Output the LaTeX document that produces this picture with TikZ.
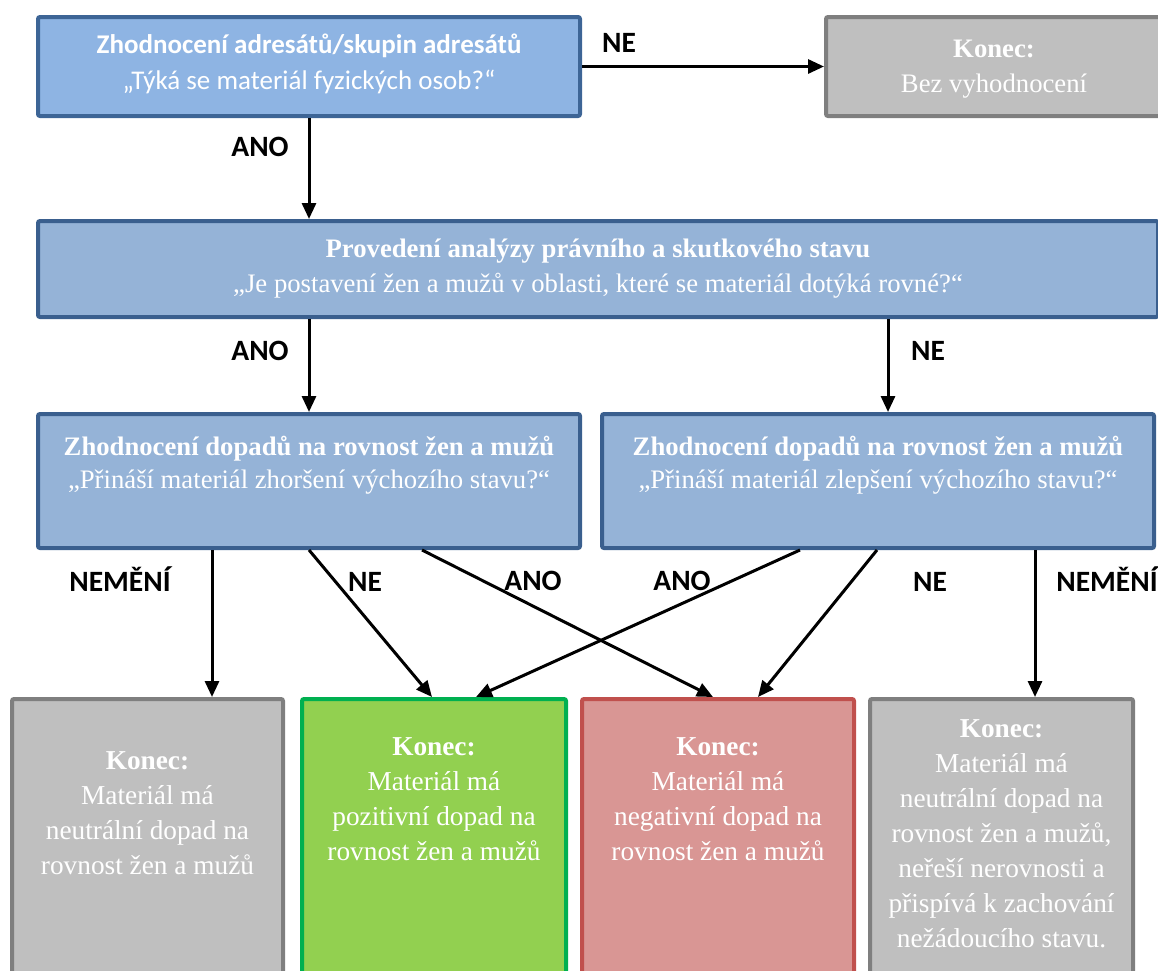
\documentclass[tikz,border=0pt]{standalone}
\usepackage{fontspec}
\setmainfont{Liberation Serif}
\newfontfamily\calib{Carlito}
\usetikzlibrary{arrows.meta}
\definecolor{bOneFill}{HTML}{8EB4E3}
\definecolor{bOneDraw}{HTML}{3D6596}
\definecolor{bTwoFill}{HTML}{95B3D7}
\definecolor{bTwoDraw}{HTML}{3A5F8E}
\definecolor{gFill}{HTML}{BFBFBF}
\definecolor{gDraw}{HTML}{7F7F7F}
\definecolor{grFill}{HTML}{92D050}
\definecolor{grDraw}{HTML}{00B050}
\definecolor{rFill}{HTML}{D99694}
\definecolor{rDraw}{HTML}{C0504D}
\tikzset{
  boxbase/.style={rectangle, rounded corners=2pt, line width=4pt, inner sep=0pt},
  blueone/.style={boxbase, fill=bOneFill, draw=bOneDraw},
  bluetwo/.style={boxbase, fill=bTwoFill, draw=bTwoDraw},
  graybox/.style={boxbase, fill=gFill, draw=gDraw},
  greenbox/.style={boxbase, fill=grFill, draw=grDraw},
  redbox/.style={boxbase, fill=rFill, draw=rDraw},
  txtone/.style={anchor=north, inner sep=0pt, align=center, text=white, font=\calib\fontsize{27}{36}\selectfont},
  txttop/.style={anchor=north, inner sep=0pt, align=center, text=white, font=\fontsize{26.7}{35}\selectfont},
  txttwo/.style={anchor=north, inner sep=0pt, align=center, text=white, font=\fontsize{26.7}{35}\selectfont},
  txtthree/.style={anchor=north, inner sep=0pt, align=center, text=white, font=\fontsize{26.7}{33}\selectfont},
  txtend/.style={anchor=north, inner sep=0pt, align=center, text=white, font=\fontsize{27.3}{35}\selectfont},
  lbl/.style={anchor=base, inner sep=0pt, text=black, font=\calib\bfseries\fontsize{29.5}{32}\selectfont},
  arr/.style={line width=3pt, -{Triangle[length=16pt,width=14pt]}},
}
\begin{document}
\begin{tikzpicture}[x=1pt,y=-1pt]
\useasboundingbox (0,0) rectangle (1158,970);
\clip (0,0) rectangle (1158,970);
% boxes
\node[blueone, minimum width=542pt, minimum height=99pt] (b1) at (309,66.5) {};
\node[graybox, minimum width=336pt, minimum height=99pt] (k0) at (994,66.5) {};
\node[bluetwo, minimum width=1120pt, minimum height=96pt] (b2) at (598,269) {};
\node[bluetwo, minimum width=542pt, minimum height=134pt] (b3l) at (309,481) {};
\node[bluetwo, minimum width=552pt, minimum height=134pt] (b3r) at (878,481) {};
\node[graybox, minimum width=271pt, minimum height=300pt] (ea) at (147.5,849) {};
\node[greenbox, minimum width=264pt, minimum height=300pt] (eb) at (434,849) {};
\node[redbox, minimum width=272pt, minimum height=300pt] (ec) at (718,849) {};
\node[graybox, minimum width=263pt, minimum height=300pt] (ed) at (1001.5,849) {};
% texts
\node[txtone] (t1) at (309,27.8) {\strut\bfseries Zhodnocení adresátů/skupin adresátů\\„Týká se materiál fyzických osob?“};
\node[txttop] (t0) at (994,32.5) {\strut\bfseries Konec:\\Bez vyhodnocení};
\node[txttwo] (t2) at (598,232.5) {\strut\bfseries Provedení analýzy právního a skutkového stavu\\„Je postavení žen a mužů v oblasti, které se materiál dotýká rovné?“};
\node[txtthree] (t3l) at (309,431.9) {\strut\bfseries Zhodnocení dopadů na rovnost žen a mužů\\„Přináší materiál zhoršení výchozího stavu?“};
\node[txtthree] (t3r) at (878,431.9) {\strut\bfseries Zhodnocení dopadů na rovnost žen a mužů\\„Přináší materiál zlepšení výchozího stavu?“};
\node[txtend] (ta) at (147.5,744.5) {\strut\textbf{Konec:}\\Materiál má\\neutrální dopad na\\rovnost žen a mužů};
\node[txtend] (tb) at (434,730.5) {\strut\textbf{Konec:}\\Materiál má\\pozitivní dopad na\\rovnost žen a mužů};
\node[txtend] (tc) at (718,730.5) {\strut\textbf{Konec:}\\Materiál má\\negativní dopad na\\rovnost žen a mužů};
\node[txtend] (td) at (1001.5,712.5) {\strut\textbf{Konec:}\\Materiál má\\neutrální dopad na\\rovnost žen a mužů,\\neřeší nerovnosti a\\přispívá k zachování\\nežádoucího stavu.};
% connectors
\draw[arr] (b1.east) -- (k0.west);
\draw[arr] (b1.south) -- (b1.south |- b2.north);
\draw[arr] (b2.south -| b3l.north) -- (b3l.north);
\path ([xshift=10pt]b3r.north) coordinate (r1);
\draw[arr] (b2.south -| r1) -- (r1);
\path ([xshift=-97pt]b3l.south) coordinate (s1);
\draw[arr] (s1) -- (s1 |- ea.north);
\draw[arr] (b3l.south) -- ([xshift=-2pt]eb.north);
\draw[arr] ([xshift=113pt]b3l.south) -- ([xshift=-5pt]ec.north);
\draw[arr] ([xshift=-78pt]b3r.south) -- ([xshift=42pt]eb.north);
\draw[arr] ([xshift=-1pt]b3r.south) -- ([xshift=40pt]ec.north);
\path ([xshift=157pt]b3r.south) coordinate (s2);
\draw[arr] (s2) -- (s2 |- ed.north);
% labels
\node[lbl] (l1) at (619,52) {NE};
\node[lbl] (l2) at (260,156) {ANO};
\node[lbl] (l3) at (260,360) {ANO};
\node[lbl] (l4) at (928,360) {NE};
\node[lbl] (l5) at (120,591) {NEMĚNÍ};
\node[lbl] (l6) at (365,591) {NE};
\node[lbl] (l7) at (533,590) {ANO};
\node[lbl] (l8) at (682,590) {ANO};
\node[lbl] (l9) at (930,591) {NE};
\node[lbl] (l10) at (1107,591) {NEMĚNÍ};
\end{tikzpicture}
\end{document}
